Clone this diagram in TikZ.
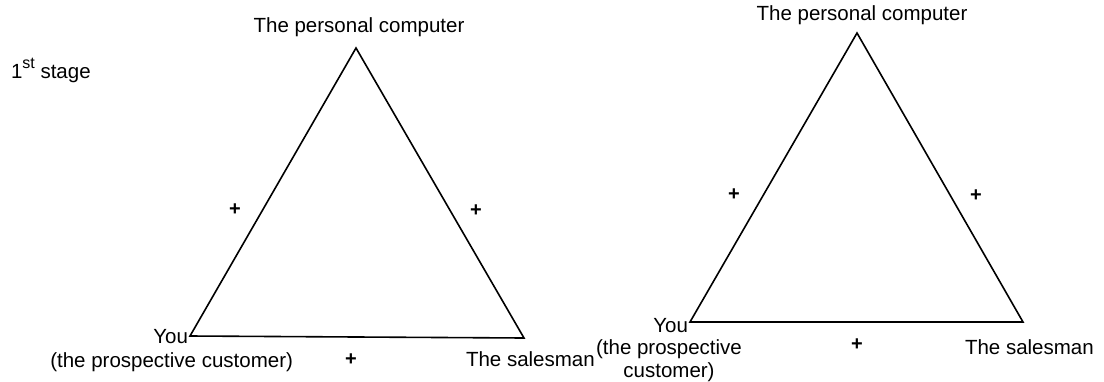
\documentclass[tikz,border=0pt]{standalone}
\usepackage{fontspec}
\setmainfont{Liberation Sans}
\begin{document}
\begin{tikzpicture}[x=1pt,y=-1pt,
  lbl/.style={inner sep=0pt,outer sep=0pt,font=\fontsize{20.5}{23}\selectfont},
  pl/.style={inner sep=0pt,outer sep=0pt,font=\fontsize{20}{24}\selectfont\bfseries},
  edge/.style={line width=1.6pt,line join=miter}]
\useasboundingbox (0,0) rectangle (1104,381);
% triangle 1
\coordinate (A1) at (356,48);
\coordinate (B1) at (190,336);
\coordinate (C1) at (524,338);
\draw[edge] (A1) -- (B1) -- (C1) -- cycle;
% triangle 2
\coordinate (A2) at (857,33);
\coordinate (B2) at (690,322);
\coordinate (C2) at (1023,322);
\draw[edge] (A2) -- (B2) -- (C2) -- cycle;
% labels triangle 1
\node[lbl,anchor=base west] (stage) at (11,78) {1\raisebox{0.45em}{\fontsize{16}{16}\selectfont st} stage};
\node[lbl,anchor=base] (pc1) at (359,32) {The personal computer};
\node[lbl,anchor=base east] (you1) at (188,343) {You};
\node[lbl,anchor=base east] (cust1) at (293,367) {(the prospective customer)};
\node[lbl,anchor=base west] (sal1) at (466,366) {The salesman};
\node[pl] (p1a) at (235,210) {+};
\node[pl] (p1b) at (476,211) {+};
\node[pl] (p1c) at (351,360) {+};
% labels triangle 2
\node[lbl,anchor=base] (pc2) at (862,20) {The personal computer};
\node[lbl,anchor=base east] (you2) at (688,332) {You};
\node[lbl,anchor=base,align=center] (cust2) at (669,377) {(the prospective\\customer)};
\node[lbl,anchor=base west] (sal2) at (965,354) {The salesman};
\node[pl] (p2a) at (734,195) {+};
\node[pl] (p2b) at (976,196) {+};
\node[pl] (p2c) at (857,345) {+};
\end{tikzpicture}
\end{document}
